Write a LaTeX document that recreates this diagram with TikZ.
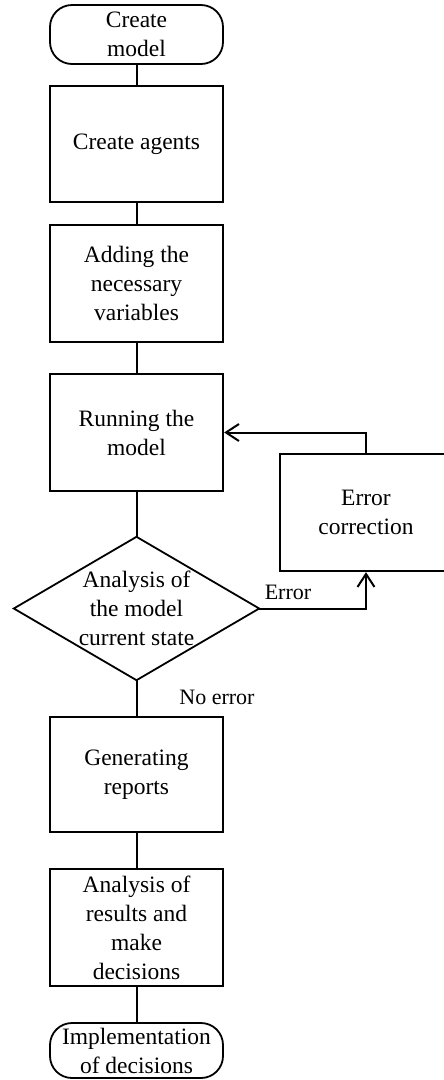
\documentclass[tikz,border=0pt]{standalone}
\usepackage{fontspec}
\setmainfont{Liberation Serif}
\usetikzlibrary{arrows.meta}
\begin{document}
\begin{tikzpicture}[x=1pt,y=-1pt,
  every node/.style={font=\fontsize{23.5}{29}\selectfont, align=center, inner sep=0pt},
  procbox/.style={draw, line width=2.3pt, minimum width=173pt},
  termbox/.style={draw, line width=1.8pt, minimum width=173pt, rounded corners=22pt},
  conn/.style={line width=2pt},
  arr/.style={line width=2pt, -{Straight Barb[length=13pt,width=17pt,line width=2pt]}},
  lbl/.style={font=\fontsize{22}{27}\selectfont}]
\useasboundingbox (0,0) rectangle (444,1080);
\clip (0,0) rectangle (444,1080);
\fill[white] (0,0) rectangle (444,1080);
\node[termbox, minimum height=59pt] (start) at (136.5,34.5) {Create\\model};
\node[procbox, minimum height=116pt] (agents) at (136.5,144) {Create agents};
\node[procbox, minimum height=117pt] (vars) at (136.5,283.5) {Adding the\\necessary\\variables};
\node[procbox, minimum height=117pt] (run) at (136.5,432.5) {Running the\\model};
\node[minimum width=245pt, minimum height=143pt] (dec) at (136.5,608.5) {Analysis of\\the model\\current state};
\draw[line width=1.8pt] (dec.north) -- (dec.east) -- (dec.south) -- (dec.west) -- cycle;
\node[procbox, minimum width=172pt, minimum height=117pt] (err) at (366,512.5) {Error\\correction};
\node[procbox, minimum height=115pt] (rep) at (136.5,774.5) {Generating\\reports};
\node[procbox, minimum height=117pt] (res) at (136.5,927.5) {Analysis of\\results and\\make\\decisions};
\node[termbox, minimum height=55pt] (end) at (136.5,1050.5) {Implementation\\of decisions};
\draw[conn] (start.south) -- (agents.north);
\draw[conn] (agents.south) -- (vars.north);
\draw[conn] (vars.south) -- (run.north);
\draw[conn] (run.south) -- (dec.north);
\draw[conn] (dec.south) -- (rep.north);
\draw[conn] (rep.south) -- (res.north);
\draw[conn] (res.south) -- (end.north);
\draw[arr] (dec.east) -| (err.south);
\draw[arr] (err.north) |- (run.east);
\node[lbl] (errlbl) at (288,592) {Error};
\node[lbl] (nolbl) at (217,697) {No error};
\end{tikzpicture}
\end{document}
